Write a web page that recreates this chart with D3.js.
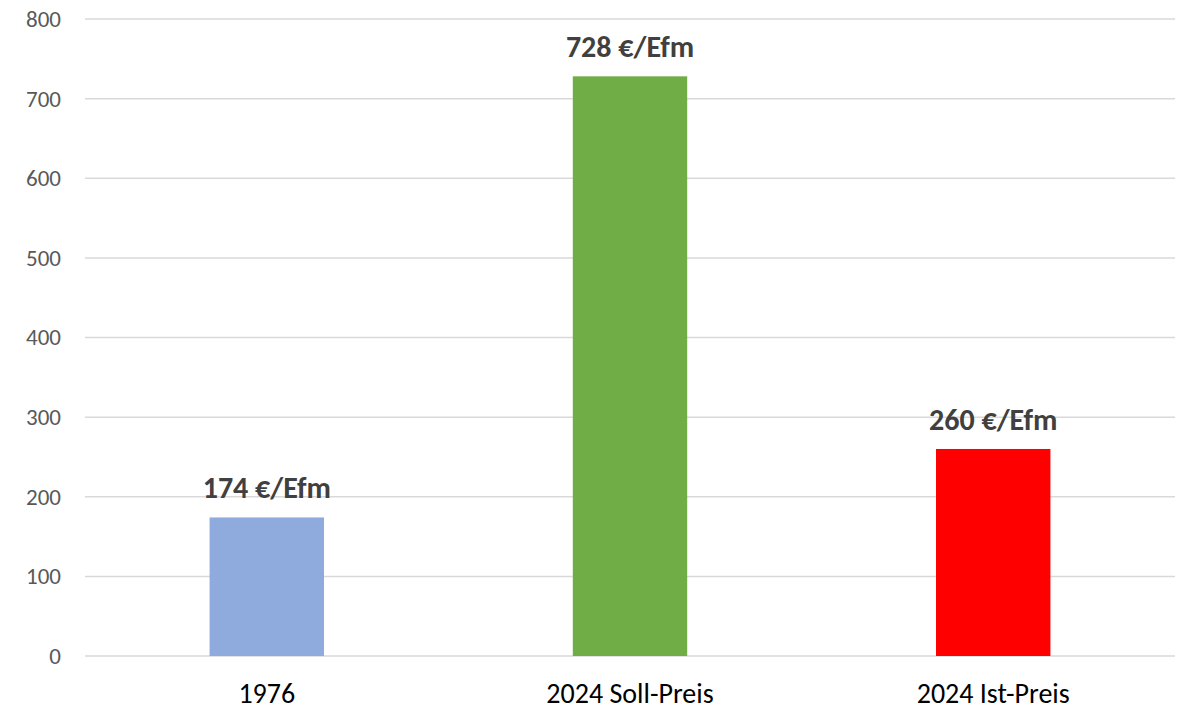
<!DOCTYPE html>
<html lang="de">
<head>
<meta charset="UTF-8">
<title>Holzpreis</title>
<script src="https://d3js.org/d3.v7.min.js"></script>
<style>
  body { margin: 0; background: #fff; }
  svg text { font-family: Carlito, Lato, "Open Sans", sans-serif; }
</style>
</head>
<body>
<script>
  // data
  var categories = ["1976", "2024 Soll-Preis", "2024 Ist-Preis"];
  var values = [174, 728, 260];
  var colors = ["#8faadc", "#70ad47", "#ff0000"];
  var labels = ["174 €/Efm", "728 €/Efm", "260 €/Efm"];
  var yTicks = [0, 100, 200, 300, 400, 500, 600, 700, 800];

  var width = 1185, height = 712;
  var margin = {top: 19, right: 10, bottom: 56, left: 85};
  var innerW = width - margin.left - margin.right;
  var innerH = height - margin.top - margin.bottom;

  var svg = d3.select("body").append("svg")
    .attr("width", width)
    .attr("height", height);

  var g = svg.append("g")
    .attr("transform", `translate(${margin.left},${margin.top})`);

  var x = d3.scaleBand()
    .domain(categories)
    .range([0, innerW])
    .paddingInner(0.685)
    .paddingOuter(0.343);

  var y = d3.scaleLinear()
    .domain([0, 800])
    .range([innerH, 0]);

  // gridlines
  g.selectAll("line.grid")
    .data(yTicks)
    .enter().append("line")
    .attr("class", "grid")
    .attr("x1", 0)
    .attr("x2", innerW)
    .attr("y1", d => y(d))
    .attr("y2", d => y(d))
    .attr("stroke", "#d9d9d9")
    .attr("stroke-width", 1.5);

  // y axis labels
  var yAxis = g.append("g")
    .call(d3.axisLeft(y).tickValues(yTicks).tickSize(0).tickPadding(24));
  yAxis.select(".domain").remove();
  yAxis.selectAll("text")
    .attr("fill", "#595959")
    .style("font-size", "23px");

  // bars
  g.selectAll("rect.bar")
    .data(values)
    .enter().append("rect")
    .attr("class", "bar")
    .attr("x", (d, i) => x(categories[i]))
    .attr("y", d => y(d))
    .attr("width", x.bandwidth())
    .attr("height", d => y(0) - y(d))
    .attr("fill", (d, i) => colors[i]);

  // value labels
  g.selectAll("text.val")
    .data(values)
    .enter().append("text")
    .attr("class", "val")
    .attr("x", (d, i) => x(categories[i]) + x.bandwidth() / 2)
    .attr("y", d => y(d) - 19)
    .attr("text-anchor", "middle")
    .attr("fill", "#404040")
    .style("font-size", "30px")
    .style("font-weight", "bold")
    .text((d, i) => labels[i]);

  // x axis labels
  var xAxis = g.append("g")
    .attr("transform", `translate(0,${innerH})`)
    .call(d3.axisBottom(x).tickSize(0).tickPadding(27));
  xAxis.select(".domain").remove();
  xAxis.selectAll("text")
    .attr("fill", "#000")
    .style("font-size", "28px");
</script>
</body>
</html>
